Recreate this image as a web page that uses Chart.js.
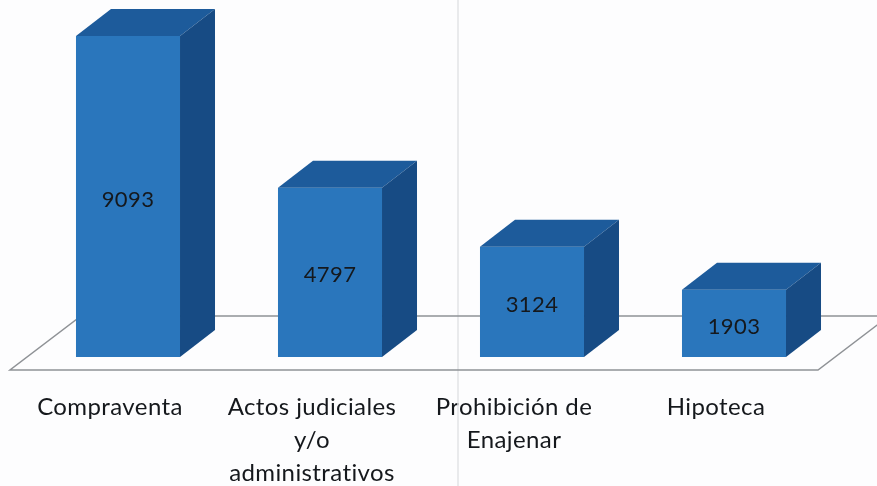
<!DOCTYPE html>
<html>
<head>
<meta charset="utf-8">
<style>
  html, body { margin: 0; padding: 0; background: #fdfdfe; }
  #box { width: 877px; height: 486px; }
</style>
</head>
<body>
<div id="box"><canvas id="grafico"></canvas></div>
<script src="https://cdn.jsdelivr.net/npm/chart.js@4/dist/chart.umd.min.js"></script>
<script>
const categorias = [
  'Compraventa',
  ['Actos judiciales', 'y/o', 'administrativos'],
  ['Prohibición de', 'Enajenar'],
  'Hipoteca'
];
const valores = [9093, 4797, 3124, 1903];

// Profundidad del efecto 3D
const fondoX = 35;
const fondoY = 27;

function poligono(ctx, puntos, color) {
  ctx.fillStyle = color;
  ctx.beginPath();
  puntos.forEach((p, i) => i ? ctx.lineTo(p[0], p[1]) : ctx.moveTo(p[0], p[1]));
  ctx.closePath();
  ctx.fill();
}

// Piso del grafico y doblez del papel escaneado, detras de las barras
const piso = {
  id: 'piso',
  beforeDraw(chart) {
    // Un poco de espacio entre letras, y de paso sin ligaduras
    chart.ctx.letterSpacing = '0.4px';
  },
  beforeDatasetsDraw(chart) {
    const ctx = chart.ctx;
    const area = chart.chartArea;
    const base = chart.scales.y.getPixelForValue(0);
    const frente = base + 13;
    const atras = base - 41;
    ctx.save();
    ctx.strokeStyle = '#e2e3e6';
    ctx.lineWidth = 1.5;
    ctx.beginPath();
    ctx.moveTo(458, 0);
    ctx.lineTo(458, chart.height);
    ctx.stroke();
    ctx.strokeStyle = '#8f9296';
    ctx.lineWidth = 1.5;
    ctx.beginPath();
    ctx.moveTo(area.left - 17, frente);
    ctx.lineTo(area.right - 17, frente);
    ctx.lineTo(area.right + 54, atras);
    ctx.lineTo(area.left + 54, atras);
    ctx.closePath();
    ctx.stroke();
    ctx.restore();
  }
};

// Caras superior y lateral de cada barra, y el valor encima
const barras3d = {
  id: 'barras3d',
  afterDatasetsDraw(chart) {
    const ctx = chart.ctx;
    ctx.save();
    chart.getDatasetMeta(0).data.forEach((barra, i) => {
      const izq = barra.x - barra.width / 2;
      const der = barra.x + barra.width / 2;
      poligono(ctx, [[izq, barra.y], [izq + fondoX, barra.y - fondoY], [der + fondoX, barra.y - fondoY], [der, barra.y]], '#1d5b9b');
      poligono(ctx, [[der, barra.y], [der + fondoX, barra.y - fondoY], [der + fondoX, barra.base - fondoY], [der, barra.base]], '#174b84');
      ctx.fillStyle = '#15181c';
      ctx.font = '22px Lato';
      ctx.textAlign = 'center';
      ctx.textBaseline = 'middle';
      ctx.fillText(valores[i], barra.x, (barra.y + barra.base) / 2 + 3);
    });
    ctx.restore();
  }
};

new Chart(document.getElementById('grafico'), {
  type: 'bar',
  data: {
    labels: categorias,
    datasets: [{
      data: valores,
      backgroundColor: '#2a76bc',
      borderWidth: 0,
      barPercentage: 0.515,
      categoryPercentage: 1
    }]
  },
  options: {
    responsive: true,
    maintainAspectRatio: false,
    animation: false,
    layout: { padding: { top: 4, left: 27, right: 42, bottom: 0 } },
    plugins: {
      legend: { display: false },
      tooltip: { enabled: false }
    },
    scales: {
      x: {
        grid: { display: false },
        border: { display: false },
        afterFit(escala) { escala.height = 129; },
        ticks: {
          autoSkip: false,
          maxRotation: 0,
          padding: 26,
          labelOffset: -18,
          color: '#15181c',
          font: { family: 'Lato', size: 24, lineHeight: 1.375 }
        }
      },
      y: {
        display: false,
        min: 0,
        max: 10000
      }
    }
  },
  plugins: [piso, barras3d]
});
</script>
</body>
</html>
